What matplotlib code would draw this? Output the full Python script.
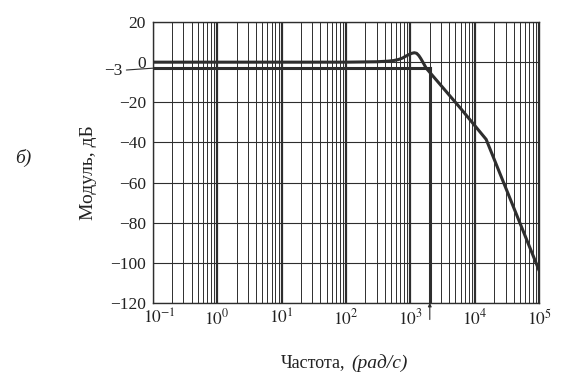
import matplotlib
matplotlib.use("Agg")
import matplotlib.pyplot as plt
import matplotlib.transforms as mtransforms
import numpy as np
from matplotlib.ticker import LogLocator, FixedLocator, NullFormatter

# ---- data ----
freq = [0.1, 1, 10, 100, 300, 450, 550, 650, 750, 850, 950, 1050, 1150,
        1250, 1350, 1450, 1600, 1760, 3000, 6000, 15000, 100000]
mag_db = [0, 0, 0, 0, 0.2, 0.5, 0.8, 1.3, 2.0, 3.0, 3.8, 4.4, 4.7,
          4.4, 3.3, 1.8, -0.6, -3, -11.7, -23.0, -38.5, -104]
cutoff_level = -3
cutoff_freq = 2000
yticks = [20, 0, -20, -40, -60, -80, -100, -120]
xticks = [1e-1, 1e0, 1e1, 1e2, 1e3, 1e4, 1e5]
xtick_labels = [r"$10^{-1}$", r"$10^{0}$", r"$10^{1}$", r"$10^{2}$",
                r"$10^{3}$", r"$10^{4}$", r"$10^{5}$"]

plt.rcParams['font.family'] = ['Liberation Serif', 'DejaVu Serif']
plt.rcParams['mathtext.fontset'] = 'stix'

fig = plt.figure(figsize=(5.7, 3.8), dpi=100)
ax = fig.add_axes([0.268, 0.203, 0.678, 0.739])

ink = '#2e2e2e'
txt = '#222222'
ax.set_xscale('log')
ax.set_xlim(1e-1, 1e5)
ax.set_ylim(-120, 20)

# grid
ax.xaxis.set_major_locator(FixedLocator(xticks))
ax.xaxis.set_minor_locator(LogLocator(base=10, subs=np.arange(2, 10)))
ax.xaxis.set_minor_formatter(NullFormatter())
ax.set_xticklabels(xtick_labels)
ax.set_yticks(yticks)
ax.set_yticklabels([str(v).replace('-', '\u2212') for v in yticks])
ax.grid(which='major', axis='x', color=ink, lw=1.6)
ax.grid(which='minor', axis='x', color=ink, lw=0.7)
ax.grid(which='major', axis='y', color=ink, lw=0.8)
ax.tick_params(which='both', length=0, labelsize=12.5, colors=txt)
ax.tick_params(axis='x', pad=4)
ax.tick_params(axis='y', pad=5)
for s in ax.spines.values():
    s.set_color(ink)
    s.set_linewidth(1.0)

# first x tick label sits a little to the right in the original
first = ax.get_xticklabels()[0]
first.set_transform(first.get_transform() +
                    mtransforms.ScaledTranslation(7 / 100, 0, fig.dpi_scale_trans))

# curves
ax.plot(freq, mag_db, color=ink, lw=2.2, solid_capstyle='round', zorder=5)
ax.plot([freq[0], cutoff_freq], [cutoff_level, cutoff_level], color=ink, lw=2.2, zorder=5)
ax.plot([cutoff_freq, cutoff_freq], [cutoff_level, -120], color=ink, lw=2.2, zorder=5)

# -3 label with leader line
ax.annotate('\u22123', xy=(0, cutoff_level), xycoords=('axes fraction', 'data'),
            xytext=(-22, -2), textcoords='offset points', ha='right', va='center',
            fontsize=12.5, color=txt,
            arrowprops=dict(arrowstyle='-', color=ink, lw=0.8, shrinkA=1, shrinkB=0))

# arrow under the axis at cutoff
ax.annotate('', xy=(cutoff_freq, 0), xycoords=('data', 'axes fraction'),
            xytext=(0, -12), textcoords='offset points',
            arrowprops=dict(arrowstyle='-|>', color=ink, lw=0.8, mutation_scale=5,
                            shrinkA=0, shrinkB=0), annotation_clip=False)

# labels
ax.set_ylabel('Модуль, дБ', fontsize=14, color=txt)
ax.yaxis.set_label_coords(-0.145, 0.463)
fig.text(0.605, 0.045, 'Частота,', fontsize=13, color=txt, ha='right', va='center')
fig.text(0.616, 0.045, '(рад/с)', fontsize=14, color=txt, ha='left', va='center',
         style='italic')
fig.text(0.040, 0.585, 'б)', fontsize=14, color=txt, ha='center', va='center',
         style='italic')

fig.savefig('out.png', dpi=100)
